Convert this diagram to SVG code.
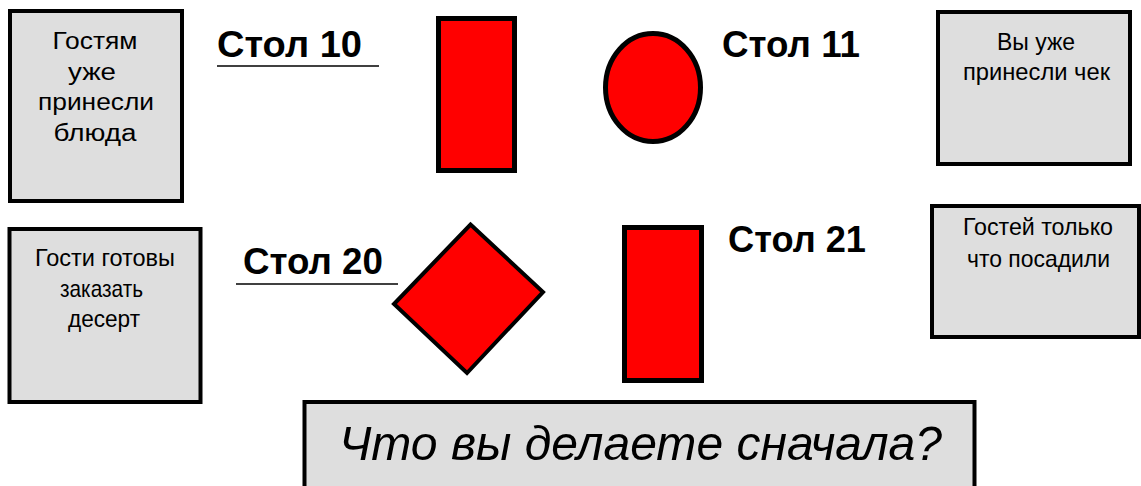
<svg xmlns="http://www.w3.org/2000/svg" width="1141" height="486" viewBox="0 0 1141 486">
  <style>
    .note { fill: #dedede; stroke: #000; stroke-width: 4; }
    .table { fill: #ff0000; stroke: #000; stroke-width: 5; }
    .txt { font-family: "Liberation Sans", Arial, sans-serif; font-size: 23px; fill: #000; text-anchor: middle; }
    .narrow { font-size: 24px; }
    .label { font-family: "Liberation Sans", Arial, sans-serif; font-size: 37px; font-weight: bold; fill: #000; }
    .rule { stroke: #000; stroke-width: 1.6; }
    .question { font-family: "Liberation Sans", Arial, sans-serif; font-size: 48px; font-style: italic; fill: #000; text-anchor: middle; }
  </style>
  <rect width="1141" height="486" fill="#fff"/>

  <!-- status notes -->
  <g id="note-served">
    <rect class="note" x="10" y="11" width="172" height="190"/>
    <text class="txt" x="95" y="49" textLength="85" lengthAdjust="spacingAndGlyphs">Гостям</text>
    <text class="txt" x="92" y="80" textLength="48" lengthAdjust="spacingAndGlyphs">уже</text>
    <text class="txt" x="96" y="110" textLength="116" lengthAdjust="spacingAndGlyphs">принесли</text>
    <text class="txt" x="95" y="141" textLength="83" lengthAdjust="spacingAndGlyphs">блюда</text>
  </g>
  <g id="note-check">
    <rect class="note" x="938" y="12" width="192" height="152"/>
    <text class="txt narrow" x="1036" y="50" textLength="78" lengthAdjust="spacingAndGlyphs">Вы уже</text>
    <text class="txt narrow" x="1036.5" y="80" textLength="147" lengthAdjust="spacingAndGlyphs">принесли чек</text>
  </g>
  <g id="note-seated">
    <rect class="note" x="932" y="206" width="207" height="131"/>
    <text class="txt narrow" x="1038" y="235" textLength="150" lengthAdjust="spacingAndGlyphs">Гостей только</text>
    <text class="txt narrow" x="1038.5" y="267" textLength="143" lengthAdjust="spacingAndGlyphs">что посадили</text>
  </g>
  <g id="note-dessert">
    <rect class="note" x="9.5" y="229" width="191" height="173"/>
    <text class="txt narrow" x="105" y="266" textLength="140" lengthAdjust="spacingAndGlyphs">Гости готовы</text>
    <text class="txt narrow" x="101.5" y="297" textLength="83" lengthAdjust="spacingAndGlyphs">заказать</text>
    <text class="txt narrow" x="104" y="327" textLength="72" lengthAdjust="spacingAndGlyphs">десерт</text>
  </g>

  <!-- tables -->
  <g id="table-10">
    <rect class="table" x="438.5" y="18.5" width="76" height="152"/>
    <text class="label" x="217" y="57" textLength="145" lengthAdjust="spacingAndGlyphs">Стол 10</text>
    <line class="rule" x1="217" y1="66" x2="379" y2="66"/>
  </g>
  <g id="table-11">
    <ellipse class="table" cx="653" cy="87.5" rx="47.5" ry="54"/>
    <text class="label" x="722" y="57" textLength="138" lengthAdjust="spacingAndGlyphs">Стол 11</text>
  </g>
  <g id="table-20">
    <polygon class="table" points="470.5,224.5 543,292 467,373 394,304" style="stroke-width:4"/>
    <text class="label" x="243" y="274" textLength="140" lengthAdjust="spacingAndGlyphs">Стол 20</text>
    <line class="rule" x1="236" y1="284" x2="398" y2="284"/>
  </g>
  <g id="table-21">
    <rect class="table" x="624.5" y="227.5" width="77" height="153"/>
    <text class="label" x="728" y="252" textLength="138" lengthAdjust="spacingAndGlyphs">Стол 21</text>
  </g>

  <!-- question -->
  <g id="question">
    <rect class="note" x="304.5" y="402" width="670" height="100"/>
    <text class="question" x="640.5" y="460" textLength="603" lengthAdjust="spacingAndGlyphs">Что вы делаете сначала?</text>
  </g>

  <g id="connectors"></g>
</svg>
